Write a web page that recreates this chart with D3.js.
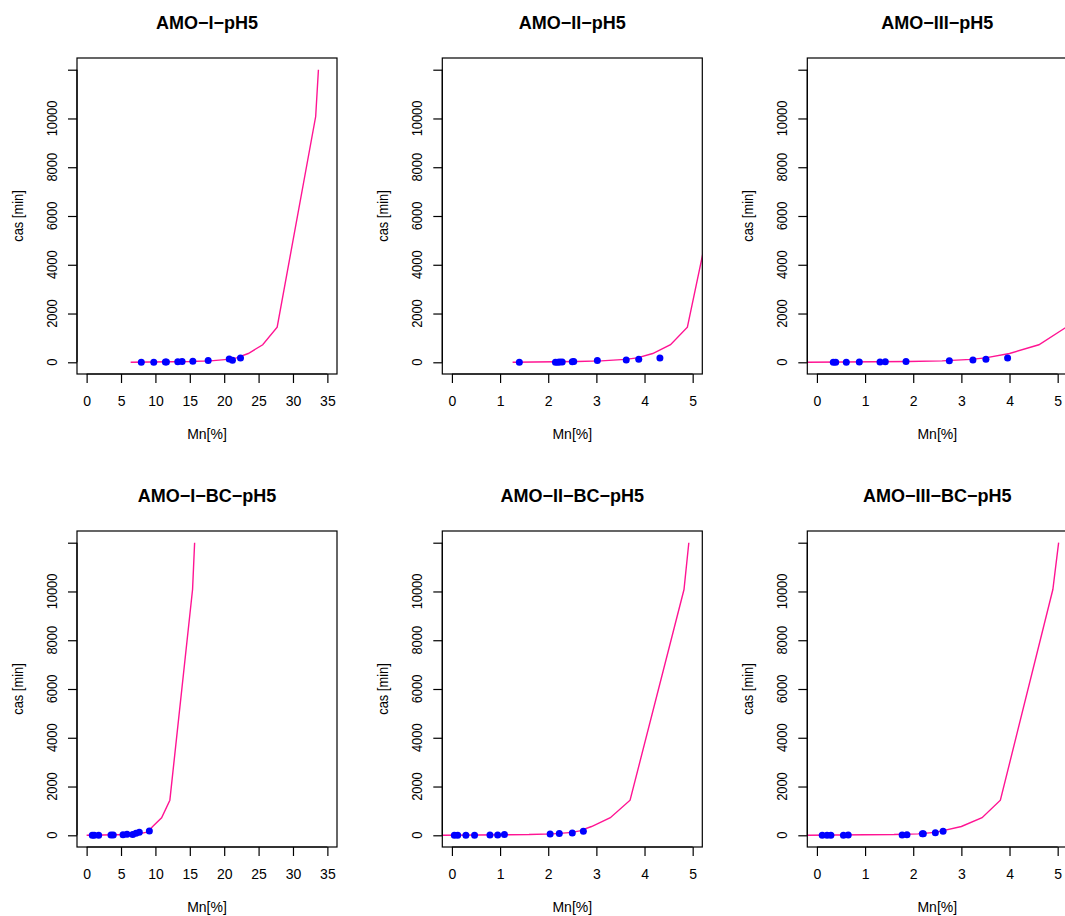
<!DOCTYPE html>
<html>
<head>
<meta charset="utf-8">
<script src="https://cdn.jsdelivr.net/npm/d3@7"></script>
<style>
  body { margin: 0; background: #fff; }
  svg { display: block; }
  text { font-family: "Liberation Sans", Arial, sans-serif; fill: #000; }
</style>
</head>
<body>
<div id="chart"></div>
<script>
// panel titles, row by row
const titles = ["AMO\u2212I\u2212pH5", "AMO\u2212II\u2212pH5", "AMO\u2212III\u2212pH5",
                "AMO\u2212I\u2212BC\u2212pH5", "AMO\u2212II\u2212BC\u2212pH5", "AMO\u2212III\u2212BC\u2212pH5"];

// x limits of each panel (R adds 4% on each side)
const xLimits = [[0, 35], [0, 5], [0, 5], [0, 35], [0, 5], [0, 5]];
const xTicks = [
  [0, 5, 10, 15, 20, 25, 30, 35], [0, 1, 2, 3, 4, 5], [0, 1, 2, 3, 4, 5],
  [0, 5, 10, 15, 20, 25, 30, 35], [0, 1, 2, 3, 4, 5], [0, 1, 2, 3, 4, 5]
];
const yTicks = [0, 2000, 4000, 6000, 8000, 10000, 12000];
const yLabelled = [0, 2000, 4000, 6000, 8000, 10000];

// model curve: time [min] and Mn[%] reached at that time
const curveTime = [0, 30, 60, 120, 180, 360, 720, 1440, 10080, 12000];
const curveMn = [
  [6.4, 15.0, 18.0, 20.5, 21.8, 23.5, 25.6, 27.7, 33.3, 33.7],
  [1.26, 2.6, 3.1, 3.6, 3.85, 4.17, 4.54, 4.89, 5.81, 5.9],
  [-0.5, 1.9, 2.6, 3.2, 3.5, 4.0, 4.61, 5.18, 6.3, 6.45],
  [0.0, 6.5, 7.6, 8.6, 9.0, 9.6, 10.9, 12.1, 15.4, 15.7],
  [-0.5, 1.6, 2.1, 2.5, 2.65, 2.9, 3.29, 3.7, 4.82, 4.92],
  [-0.5, 1.6, 2.1, 2.45, 2.6, 3.0, 3.43, 3.81, 4.9, 5.02]
];

// measured points
const pointMn = [
  [7.95, 9.76, 11.45, 11.6, 13.25, 13.88, 15.44, 17.67, 20.73, 21.2, 22.37],
  [1.40, 2.15, 2.20, 2.24, 2.29, 2.50, 2.53, 3.02, 3.62, 3.88, 4.32],
  [0.34, 0.39, 0.61, 0.88, 1.31, 1.42, 1.85, 2.75, 3.24, 3.51, 3.96],
  [0.82, 1.1, 1.75, 3.54, 3.87, 5.29, 5.87, 6.70, 7.18, 7.66, 9.12],
  [0.05, 0.12, 0.29, 0.47, 0.79, 0.95, 1.09, 2.04, 2.23, 2.50, 2.73],
  [0.11, 0.21, 0.29, 0.55, 0.65, 1.77, 1.87, 2.19, 2.21, 2.46, 2.62]
];
const pointCas = [
  [0, 5, 10, 15, 20, 30, 45, 70, 140, 80, 180],
  [0, 0, 5, 10, 15, 20, 30, 70, 95, 120, 180],
  [0, 0, 5, 10, 15, 20, 30, 60, 95, 120, 180],
  [0, 0, 5, 10, 15, 20, 40, 30, 80, 125, 180],
  [0, 0, 0, 5, 10, 15, 30, 55, 70, 95, 165],
  [0, 0, 0, 5, 10, 15, 20, 60, 60, 100, 170]
];

const W = 1065, H = 916;
const colX = [77, 442.3, 807.3], rowY = [58, 531];
const pw = 260, ph = 316;
const lineColor = "#FF1493", pointColor = "#0000FF";

const svg = d3.select("#chart").append("svg")
  .attr("width", W).attr("height", H);

const pad = (lim) => {
  const d = (lim[1] - lim[0]) * 0.04;
  return [lim[0] - d, lim[1] + d];
};

titles.forEach((title, i) => {
  const col = i % 3, row = Math.floor(i / 3);
  const g = svg.append("g")
    .attr("transform", "translate(" + colX[col] + "," + rowY[row] + ")");

  const x = d3.scaleLinear().domain(pad(xLimits[i])).range([0, pw]);
  const y = d3.scaleLinear().domain(pad([0, 12000])).range([ph, 0]);

  g.append("clipPath").attr("id", "clip" + i)
    .append("rect").attr("width", pw).attr("height", ph);

  // curve
  const line = d3.line().x((d) => x(d[0])).y((d) => y(d[1]));
  g.append("path")
    .datum(curveTime.map((t, k) => [curveMn[i][k], t]))
    .attr("clip-path", "url(#clip" + i + ")")
    .attr("fill", "none")
    .attr("stroke", lineColor)
    .attr("stroke-width", 1.4)
    .attr("d", line);

  // points
  g.append("g").attr("clip-path", "url(#clip" + i + ")")
    .selectAll("circle")
    .data(pointMn[i].map((m, k) => [m, pointCas[i][k]]))
    .join("circle")
    .attr("cx", (d) => x(d[0]))
    .attr("cy", (d) => y(d[1]))
    .attr("r", 3.5)
    .attr("fill", pointColor);

  // box
  g.append("rect")
    .attr("width", pw).attr("height", ph)
    .attr("fill", "none").attr("stroke", "#000").attr("stroke-width", 1.2);

  // x axis
  const xa = g.append("g")
    .attr("transform", "translate(0," + ph + ")")
    .call(d3.axisBottom(x).tickValues(xTicks[i]).tickSize(9).tickPadding(13)
      .tickFormat(d3.format("d")));
  xa.select(".domain").remove();
  xa.append("line")
    .attr("x1", x(xTicks[i][0])).attr("x2", x(xTicks[i][xTicks[i].length - 1]))
    .attr("stroke", "#000").attr("stroke-width", 1.2);
  xa.selectAll(".tick line").attr("stroke-width", 1.2);
  xa.selectAll(".tick text").attr("font-size", 14)
    .attr("font-family", "Liberation Sans, Arial, sans-serif");

  // y axis
  const ya = g.append("g")
    .call(d3.axisLeft(y).tickValues(yTicks).tickSize(9).tickFormat(""));
  ya.select(".domain").remove();
  ya.append("line")
    .attr("y1", y(0)).attr("y2", y(12000))
    .attr("stroke", "#000").attr("stroke-width", 1.2);
  ya.selectAll(".tick line").attr("stroke-width", 1.2);
  g.append("g").selectAll("text")
    .data(yLabelled)
    .join("text")
    .attr("transform", (d) => "translate(-20," + y(d) + ") rotate(-90) scale(0.92,1)")
    .attr("text-anchor", "middle")
    .attr("font-size", 14)
    .text((d) => d);

  // titles
  g.append("text")
    .attr("x", pw / 2).attr("y", -29)
    .attr("text-anchor", "middle")
    .attr("font-size", 18).attr("font-weight", "bold")
    .text(title);
  g.append("text")
    .attr("x", pw / 2).attr("y", ph + 65)
    .attr("text-anchor", "middle")
    .attr("font-size", 14)
    .text("Mn[%]");
  g.append("text")
    .attr("transform", "translate(-54," + ph / 2 + ") rotate(-90) scale(0.92,1)")
    .attr("text-anchor", "middle")
    .attr("font-size", 14)
    .text("cas [min]");
});
</script>
</body>
</html>
